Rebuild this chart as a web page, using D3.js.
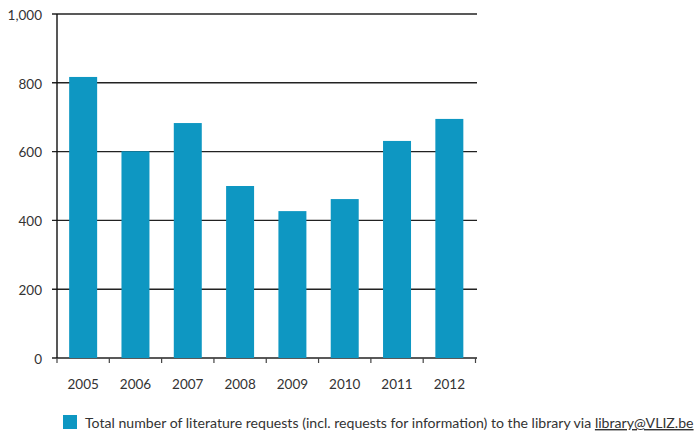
<!DOCTYPE html>
<html>
<head>
<meta charset="utf-8">
<script src="https://cdn.jsdelivr.net/npm/d3@7"></script>
<style>
  body { margin: 0; background: #fff; }
  text { font-family: Lato, "Open Sans", sans-serif; fill: #333; }
</style>
</head>
<body>
<div id="chart"><svg></svg></div>
<script>
const years = ["2005", "2006", "2007", "2008", "2009", "2010", "2011", "2012"];
const requests = [817, 601, 683, 500, 427, 462, 631, 695];
const yTicks = [0, 200, 400, 600, 800, 1000];
const legendLabel = "Total number of literature requests (incl. requests for information) to the library via ";
const legendLink = "library@VLIZ.be";

const width = 695, height = 434;
const margin = { top: 14, right: 218, bottom: 76, left: 57 };
const barColor = "#0e97c2";

const svg = d3.select("#chart > svg")
  .attr("width", width)
  .attr("height", height);

// bands are centred in their slots (outer padding = half the inner one)
const x = d3.scaleBand()
  .domain(years)
  .range([margin.left, 475.5])
  .paddingInner(0.465)
  .paddingOuter(0.2325);

const y = d3.scaleLinear()
  .domain([0, 1000])
  .range([height - margin.bottom, margin.top]);

// gridlines (with short outward tick on the left)
svg.append("g")
  .selectAll("line")
  .data(yTicks)
  .join("line")
  .attr("x1", margin.left - 5)
  .attr("x2", width - margin.right)
  .attr("y1", d => y(d))
  .attr("y2", d => y(d))
  .attr("stroke", "#222")
  .attr("stroke-width", 1.4);

svg.append("g")
  .selectAll("text")
  .data(yTicks)
  .join("text")
  .attr("x", margin.left - 15)
  .attr("y", d => y(d) + 1)
  .attr("dy", "0.36em")
  .attr("text-anchor", "end")
  .style("font-size", "13.5px")
  .text(d => d3.format(",")(d));

// bars
svg.append("g")
  .selectAll("rect")
  .data(requests)
  .join("rect")
  .attr("x", (d, i) => x(years[i]))
  .attr("width", x.bandwidth())
  .attr("y", d => y(d))
  .attr("height", d => y(0) - y(d))
  .attr("fill", barColor);

// y axis line
svg.append("line")
  .attr("x1", margin.left)
  .attr("x2", margin.left)
  .attr("y1", y(1000))
  .attr("y2", y(0))
  .attr("stroke", "#111")
  .attr("stroke-width", 1.4);

// x axis ticks at band boundaries
const step = x.step();
const bounds = d3.range(years.length + 1).map(i => margin.left + i * step);
svg.append("g")
  .selectAll("line")
  .data(bounds)
  .join("line")
  .attr("x1", d => d)
  .attr("x2", d => d)
  .attr("y1", y(0))
  .attr("y2", y(0) + 5)
  .attr("stroke", "#444")
  .attr("stroke-width", 1.2);

svg.append("g")
  .selectAll("text")
  .data(years)
  .join("text")
  .attr("x", d => x(d) + x.bandwidth() / 2)
  .attr("y", y(0) + 31)
  .attr("text-anchor", "middle")
  .style("font-size", "13.5px")
  .text(d => d);

// legend
const legend = svg.append("g");
legend.append("rect")
  .attr("x", 63)
  .attr("y", 415)
  .attr("width", 14)
  .attr("height", 14)
  .attr("fill", barColor);

const legendText = legend.append("text")
  .attr("x", 85)
  .attr("y", 428)
  .style("font-size", "14px");
legendText.append("tspan").text(legendLabel);
legendText.append("tspan")
  .style("text-decoration", "underline")
  .text(legendLink);

// fit legend text to the width seen in the reference
const len = legendText.node().getComputedTextLength();
legendText.style("font-size", (14 * 609 / len).toFixed(2) + "px");
</script>
</body>
</html>
